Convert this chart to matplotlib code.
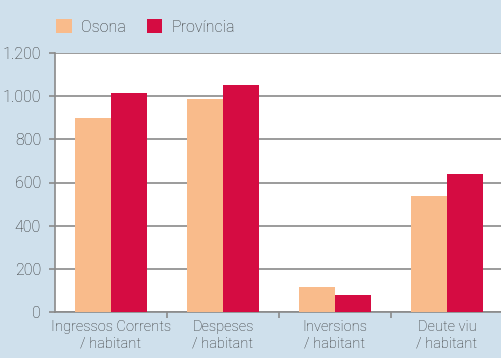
import matplotlib
matplotlib.use("Agg")
import matplotlib.pyplot as plt
import numpy as np

categories = ["Ingressos Corrents\n/ habitant", "Despeses\n/ habitant",
              "Inversions\n/ habitant", "Deute viu\n/ habitant"]
osona = [900, 987, 116, 538]
provincia = [1015, 1052, 79, 640]
yticks = [0, 200, 400, 600, 800, 1000, 1200]
ytick_labels = ["0", "200", "400", "600", "800", "1.000", "1.200"]

plt.rcParams["font.family"] = ["Roboto", "DejaVu Sans"]
plt.rcParams["font.weight"] = "light"

bg = "#cfe0ec"
c_osona = "#f9bb8b"
c_prov = "#d50c42"
grid_c = "#8a8a8a"
txt_c = "#333333"

fig = plt.figure(figsize=(5.01, 3.58), dpi=100, facecolor=bg)
ax = fig.add_axes([55 / 501, 46 / 358, 448 / 501, 259 / 358])
ax.set_facecolor("white")

x = np.arange(len(categories))
w = 0.325
ax.bar(x - w / 2, osona, w, color=c_osona, zorder=3, label="Osona")
ax.bar(x + w / 2, provincia, w, color=c_prov, zorder=3, label="Província")

ax.set_xlim(-0.5, 3.5)
ax.set_ylim(0, 1200)
ax.set_yticks(yticks)
ax.set_yticklabels(ytick_labels)
ax.yaxis.grid(True, color=grid_c, linewidth=1.2, zorder=1)
ax.set_xticks(x)
ax.set_xticklabels(categories, linespacing=1.2)
ax.set_xticks([0.5, 1.5, 2.5], minor=True)
ax.tick_params(axis="x", which="major", length=0, pad=6, labelsize=10.5, labelcolor=txt_c)
ax.tick_params(axis="x", which="minor", length=4, width=1.2, color=grid_c, direction="out")
ax.tick_params(axis="y", length=4, width=1.2, color=grid_c, pad=6, labelsize=11.5, labelcolor=txt_c)

for side in ["top", "right"]:
    ax.spines[side].set_visible(False)
for side in ["left", "bottom"]:
    ax.spines[side].set_color(grid_c)
    ax.spines[side].set_linewidth(1.2)

leg = fig.legend(loc="upper left", bbox_to_anchor=(42 / 501, 1 - 5 / 358), ncol=2,
                 frameon=False, fontsize=11.5, handlelength=0.95, handleheight=0.95,
                 handletextpad=0.6, columnspacing=1.3, labelcolor=txt_c)

fig.savefig("out.png", dpi=100, facecolor=bg)
